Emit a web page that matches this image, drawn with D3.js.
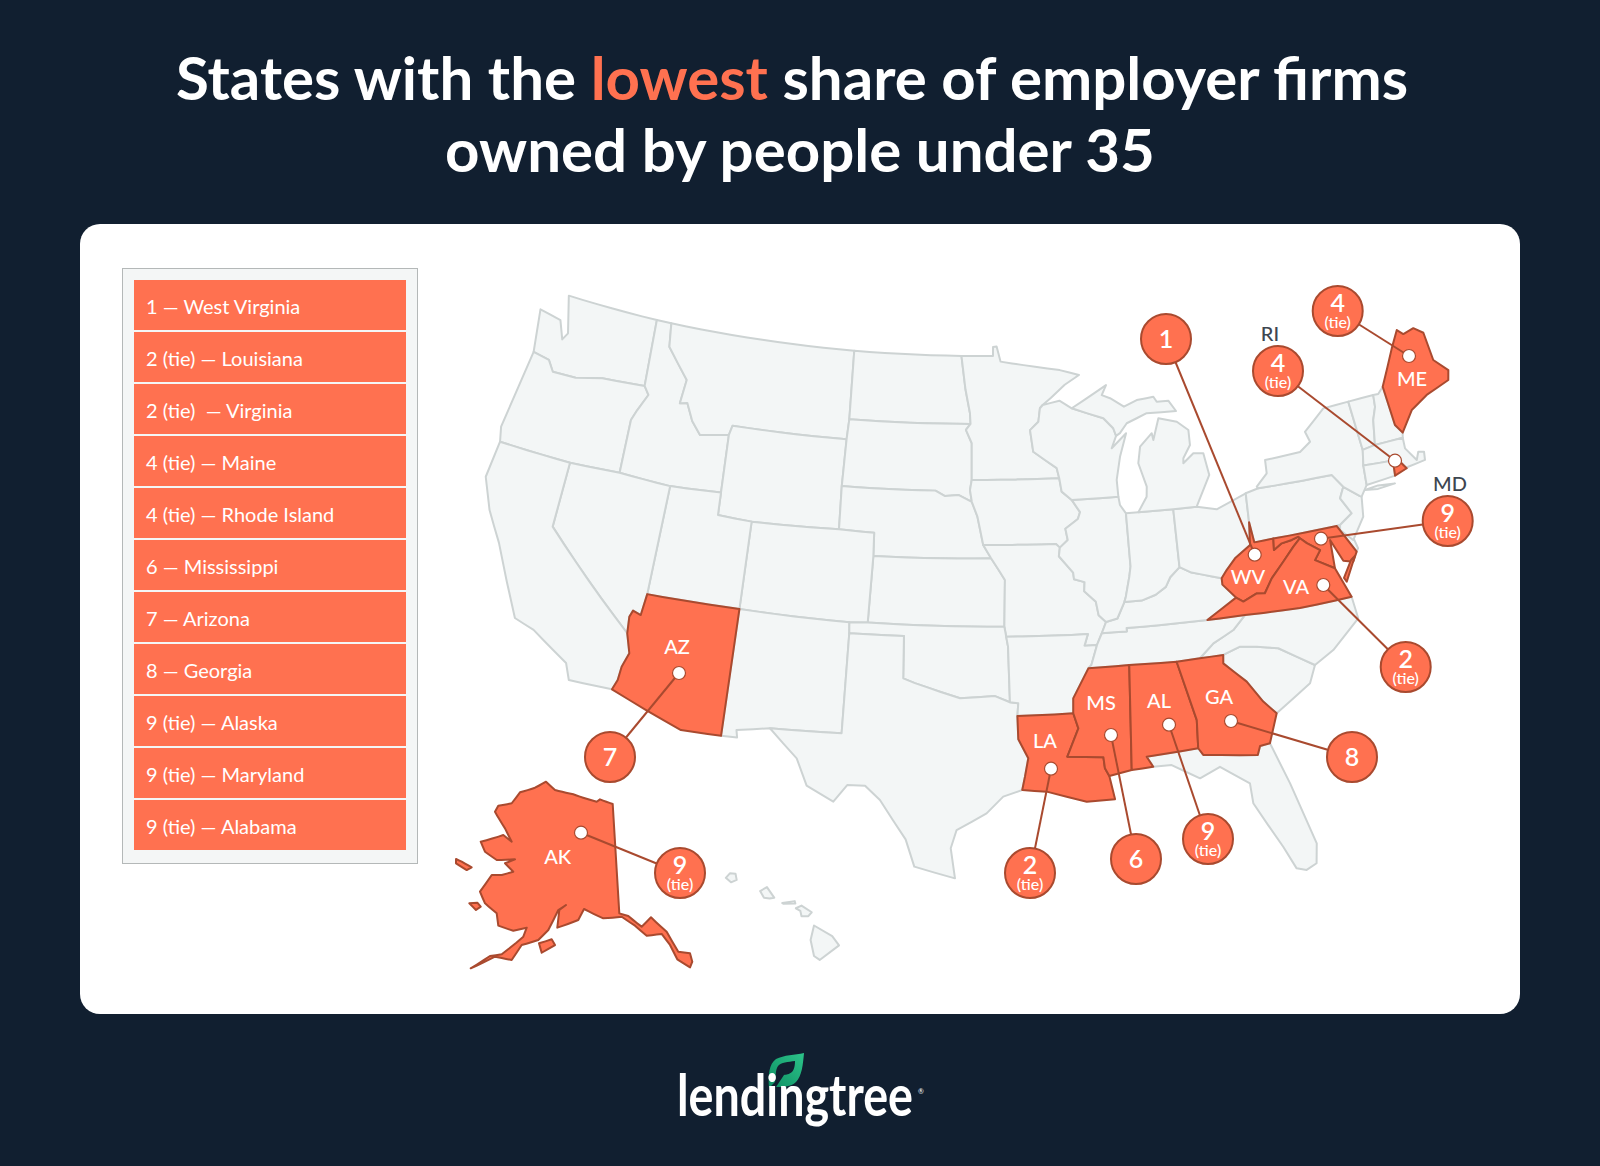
<!DOCTYPE html>
<html><head><meta charset="utf-8">
<script src="https://cdn.jsdelivr.net/npm/d3@7"></script>
<style>html,body{margin:0;padding:0;background:#111f30}svg{display:block}text{font-family:Lato,sans-serif;white-space:pre}</style>
</head><body><svg id="c" width="1600" height="1166" viewBox="0 0 1600 1166"></svg>
<script>
// ---------- chart content ----------
const titleLine1 = ["States with the ", "lowest", " share of employer firms"];
const titleLine2 = "owned by people under 35";
const legendLabels = ["1 — West Virginia","2 (tie) — Louisiana","2 (tie)  — Virginia","4 (tie) — Maine","4 (tie) — Rhode Island","6 — Mississippi","7 — Arizona","8 — Georgia","9 (tie) — Alaska","9 (tie) — Maryland","9 (tie) — Alabama"];
const highlighted = ["WV","LA","VA","ME","RI","MS","AZ","GA","AK","MD","AL"];
const ranks = {WV:"1",LA:"2",VA:"2",ME:"4",RI:"4",MS:"6",AZ:"7",GA:"8",AK:"9",MD:"9",AL:"9"};
const ties = ["LA","VA","ME","RI","AK","MD","AL"];
const outsideNames = ["RI","MD"];

// ---------- shared state borders, lon/lat ----------
const waCoast=[[-123.92,46.35],[-124.32,48.26],[-122.90,48.04],[-122.44,47.23],[-122.20,47.56],[-122.84,49.20]];
const b49wa=[[-122.84,49.20],[-116.93,49.08]], b49id=[[-116.93,49.08],[-115.97,49.07]], b49mt=[[-115.97,49.07],[-104.04,49.01]], b49nd=[[-104.04,49.01],[-97.13,49]];
const mnNorth=[[-97.13,49],[-95.10,49],[-95.09,49.40],[-94.86,49.42],[-94.62,48.74],[-92.42,48.47],[-90.86,48.27],[-89.66,48],[-90.6,47.6],[-91.5,47.05],[-92.04,46.74]];
const waOr=[[-123.92,46.35],[-122.87,46.19],[-122.43,45.73],[-120.98,45.73],[-119.38,46],[-116.74,46.08]];
const waId=[[-116.93,49.08],[-116.74,46.08]];
const orCoast=[[-123.92,46.35],[-124.42,42.76],[-124.21,42.11]];
const orCa=[[-124.21,42.11],[-119.96,42.02]], orNv=[[-119.96,42.02],[-117.02,42.08]];
const orId=[[-116.74,46.08],[-116.39,45.72],[-116.85,44.95],[-117.08,44.47],[-117.02,42.08]];
const idMt=[[-115.97,49.07],[-115.77,48.02],[-114.27,46.71],[-114.40,45.63],[-113.95,45.7],[-113.45,44.95],[-112.83,44.40],[-111.12,44.61]];
const mtWy=[[-111.12,44.61],[-110.99,45.04],[-104.03,45.03]], idWy=[[-111.12,44.61],[-111.02,42.03]];
const idNv=[[-117.02,42.08],[-113.99,41.94]], idUt=[[-113.99,41.94],[-111.02,42.03]];
const mtNd=[[-104.04,49.01],[-103.97,45.93]], mtSd=[[-103.97,45.93],[-104.03,45.03]];
const ndSd=[[-103.97,45.93],[-96.52,45.95]], ndMn=[[-97.13,49],[-96.85,47.5],[-96.56,46.44],[-96.52,45.95]];
const sdMn=[[-96.52,45.95],[-96.80,45.68],[-96.44,45.09],[-96.43,43.46]], sdIa=[[-96.43,43.46],[-96.53,43.01],[-96.42,42.49]];
const wySd=[[-104.03,45.03],[-104.07,42.94]], wyNe=[[-104.07,42.94],[-104.01,41.02]];
const sdNe=[[-104.07,42.94],[-98.56,42.96],[-97.99,42.73],[-97.21,42.79],[-96.42,42.49]];
const neCo=[[-104.01,41.02],[-101.99,40.98],[-101.95,39.95]], neKs=[[-101.95,39.95],[-95.32,39.99]];
const neIa=[[-96.42,42.49],[-96.09,41.83],[-95.76,40.58]], neMo=[[-95.76,40.58],[-95.32,39.99]];
const mnIa=[[-96.43,43.46],[-91.25,43.45]];
const mnWi=[[-92.04,46.74],[-92.22,46.60],[-92.35,46],[-92.88,45.64],[-92.73,44.67],[-91.37,43.90],[-91.25,43.45]];
const iaWi=[[-91.25,43.45],[-91.15,42.85],[-90.59,42.46]];
const iaIl=[[-90.59,42.46],[-90.15,41.9],[-90.3,41.6],[-91.05,41.2],[-90.95,40.7],[-91.42,40.38]];
const iaMo=[[-95.76,40.58],[-91.63,40.55],[-91.42,40.38]];
const moIl=[[-91.42,40.38],[-91.5,40],[-90.75,39.25],[-90.72,38.95],[-90.15,38.8],[-90.2,38.4],[-89.6,37.9],[-89.5,37.3],[-89.13,36.98]];
const moKy=[[-89.13,36.98],[-89.4,36.5]], moTn=[[-89.4,36.5],[-89.7,36]];
const moAr=[[-89.7,36],[-90.37,36],[-90.15,36.5],[-94.54,36.52]];
const ksMo=[[-95.32,39.99],[-94.90,39.47],[-94.56,39.02],[-94.63,36.96]], moOk=[[-94.63,36.96],[-94.54,36.52]];
const ksOk=[[-102.02,37.01],[-94.63,36.96]], ksCo=[[-101.95,39.95],[-102.02,37.01]];
const coWy=[[-109.02,40.95],[-104.01,41.02]], coUt=[[-109.02,40.95],[-109,37.06]], coNm=[[-109,37.06],[-103.01,36.96]], coOk=[[-103.01,36.96],[-102.02,37.01]];
const utWy=[[-111.02,42.03],[-110.98,41.03],[-109.02,40.95]], utNv=[[-113.99,41.94],[-114.06,37.07]], utAz=[[-114.06,37.07],[-109,37.06]];
const nvCa=[[-119.96,42.02],[-119.97,39.10],[-114.69,35.21]], nvAz=[[-114.06,37.07],[-114.18,36.11],[-114.63,36.24],[-114.76,35.94],[-114.69,35.21]];
const caAz=[[-114.69,35.21],[-114.37,34.36],[-114.62,33.71],[-114.68,33.10],[-114.87,32.65]];
const azSouth=[[-114.87,32.65],[-111.05,31.39],[-109.01,31.39]], azNm=[[-109,37.06],[-109.01,31.39]];
const caCoast=[[-124.21,42.11],[-124.38,40.45],[-123.61,39.09],[-122.58,37.81],[-120.64,34.79],[-119.53,34.48],[-117.47,33.38],[-117.13,32.67]];
const caSouth=[[-117.13,32.67],[-114.87,32.65]];
const nmOk=[[-103.01,36.96],[-102.97,36.48]], nmTx=[[-102.97,36.48],[-102.97,32.04],[-106.61,31.98]], nmMex=[[-109.01,31.39],[-108.20,31.41],[-108.28,31.73],[-106.61,31.98]];
const txOk=[[-102.97,36.48],[-100.03,36.49],[-99.97,34.62],[-99.35,34.43],[-98.03,34.08],[-96.98,33.80],[-95.17,33.90],[-94.40,33.62]];
const okAr=[[-94.54,36.52],[-94.45,36.08],[-94.40,33.62]];
const arTx=[[-94.40,33.62],[-93.97,33.57],[-94.03,33]], arLa=[[-94.03,33],[-91.16,33.04]];
const arTn=[[-89.7,36],[-90.07,35.13],[-90.24,34.99]], arMs=[[-90.24,34.99],[-91.12,33.70],[-91.16,33.04]];
const txLa=[[-94.03,33],[-94.01,31.97],[-93.53,31.12],[-93.72,30.30],[-93.87,29.71]];
const txCoast=[[-93.87,29.71],[-94.81,29.43],[-95.63,28.69],[-97.08,27.94],[-97.35,27.12],[-97.13,25.77]];
const rio=[[-97.13,25.77],[-99.06,26.26],[-99.52,27.47],[-100.85,29.18],[-101.62,29.78],[-102.5,29.76],[-103.12,28.98],[-104.49,29.6],[-105.11,30.77],[-106.61,31.98]];
const laRiver=[[-91.16,33.04],[-90.94,32.36],[-91.57,31.13]];
const laMs=[[-91.57,31.13],[-89.77,31.02],[-89.73,30.52],[-89.54,30.17]];
const laCoast=[[-89.54,30.17],[-89.34,29.12],[-90.73,29.08],[-92.67,29.61],[-93.87,29.71]];
const msTn=[[-90.24,34.99],[-88.08,35.01]], msAl=[[-88.08,35.01],[-88.41,30.36]], msCoast=[[-88.41,30.36],[-89.54,30.17]];
const alTn=[[-88.08,35.01],[-85.58,34.96]], alGa=[[-85.58,34.96],[-84.90,32.30],[-85,31.05]];
const alFl=[[-85,31.05],[-87.61,30.90],[-87.33,30.43]], alCoast=[[-87.33,30.43],[-88.41,30.36]];
const gaTn=[[-85.58,34.96],[-84.34,35]], gaNc=[[-84.34,35],[-83.10,35.02]];
const gaSc=[[-83.10,35.02],[-83.16,34.65],[-82.09,33.71],[-81.41,32.73],[-80.83,32.13]];
const gaCoast=[[-80.83,32.13],[-81.41,30.86]], gaFl=[[-81.41,30.86],[-81.92,30.80],[-82.10,30.42],[-84.79,30.73],[-85,31.05]];
const flCoast=[[-87.33,30.43],[-86.41,30.43],[-85.09,29.71],[-84.04,30.12],[-82.69,29.22],[-82.67,28.32],[-81.57,26.20],[-81.11,25.15],[-80.66,25.01],[-80.15,25.24],[-79.98,26.12],[-80.75,28.96],[-81.41,30.86]];
const scNc=[[-78.45,33.96],[-80.18,34.96],[-81.29,35.17],[-82.16,35.28],[-83.10,35.02]];
const scCoast=[[-78.45,33.96],[-78.88,33.20],[-80.83,32.13]];
const ncNorth=[[-81.64,36.63],[-78.66,36.55],[-75.81,36.61]], ncCoast=[[-75.81,36.61],[-75.72,35.62],[-77.36,34.46],[-78.45,33.96]];
const tnNc=[[-81.64,36.63],[-82.38,36.05],[-83.53,35.58],[-84.34,35]];
const kyTn=[[-89.4,36.5],[-88.05,36.5],[-88.05,36.65],[-83.68,36.64]], tnVa=[[-83.68,36.64],[-81.64,36.63]];
const ilKy=[[-89.13,36.98],[-88.5,37.1],[-88.05,37.8]];
const inKy=[[-88.05,37.8],[-87.1,37.8],[-86.3,38],[-85.7,38.3],[-85.4,38.7],[-84.82,39.1]];
const ohKy=[[-84.82,39.1],[-84.2,38.8],[-83.6,38.65],[-82.59,38.38]];
const kyWv=[[-82.59,38.38],[-82.6,38.1],[-81.97,37.45]], kyVa=[[-81.97,37.45],[-83.68,36.64]];
const ilWi=[[-90.59,42.46],[-87.86,42.46]], ilLake=[[-87.86,42.46],[-87.81,42.09],[-87.51,41.7]];
const ilIn=[[-87.51,41.7],[-87.53,39.35],[-87.65,38.9],[-87.95,38],[-88.05,37.8]];
const inLake=[[-87.51,41.7],[-86.79,41.7]], inMi=[[-86.79,41.7],[-84.77,41.67]], inOh=[[-84.77,41.67],[-84.82,39.1]];
const ohMi=[[-84.77,41.67],[-83.41,41.66]], ohErie=[[-83.41,41.66],[-82.29,41.43],[-80.49,41.94]];
const ohPa=[[-80.49,41.94],[-80.58,40.65]], ohWv=[[-80.58,40.65],[-80.74,39.65],[-81.69,39.17],[-82.25,38.71],[-82.59,38.38]];
const wiSup=[[-92.04,46.74],[-90.99,46.90],[-90.25,46.53]], wiUp=[[-90.25,46.53],[-88.35,45.99],[-87.80,45.51],[-87.67,45.16]];
const wiLake=[[-87.67,45.16],[-88,44.63],[-87.05,45.24],[-87.55,44.22],[-87.87,43.21],[-87.86,42.46]];
const upShore=[[-90.25,46.53],[-88.01,47.46],[-88.33,47.03],[-87.83,46.86],[-87.02,46.43],[-86.19,46.67],[-85.14,46.74],[-84.97,46.50],[-84.25,46.49],[-83.86,45.99],[-85.67,46.04],[-86.95,45.68],[-87.42,45.27],[-87.67,45.16]];
const lpShore=[[-86.79,41.7],[-86.22,42.35],[-86.15,42.79],[-86.50,43.86],[-86.29,44.59],[-85.50,45.13],[-85.45,44.82],[-84.99,45.76],[-83.90,45.51],[-83.27,45.08],[-83.30,44.41],[-83.80,43.86],[-83.84,43.64],[-83.17,44.03],[-82.58,43.97],[-82.42,42.98],[-83.41,41.66]];
const wvPa=[[-80.58,40.65],[-80.48,39.74]], wvPa2=[[-80.48,39.74],[-79.39,39.77]];
const wvMd=[[-79.39,39.77],[-79.47,39.27],[-78.98,39.50],[-78.39,39.57],[-77.99,39.66],[-77.92,39.58]];
const wvVa=[[-77.92,39.58],[-78.38,39.26],[-79.08,38.69],[-79.87,38.05],[-80.38,37.45],[-80.82,37.50],[-81.61,37.23],[-81.97,37.45]];
const paErie=[[-80.49,41.94],[-79.72,42.07]], nyPa=[[-79.72,42.07],[-75.39,42.05],[-74.89,41.43]];
const paNj=[[-74.89,41.43],[-75.22,40.96],[-74.77,40.21],[-75.56,39.81]], paDe=[[-75.56,39.81],[-75.76,39.80]], paMd=[[-75.76,39.80],[-79.39,39.77]];
const mdDe=[[-75.76,39.80],[-74.99,38.51]];
const mdBay=[[-74.99,38.51],[-75.30,38.11],[-75.82,38.24],[-76.29,39.25],[-76.36,37.99]];
const mdVa=[[-76.36,37.99],[-77.34,38.51],[-76.95,38.90],[-77.60,39.31],[-77.92,39.58]];
const deBay=[[-75.56,39.81],[-75.03,39.27],[-74.87,38.65],[-74.99,38.51]];
const vaCoast=[[-76.36,37.99],[-75.81,36.61]];
const njNy=[[-74.89,41.43],[-74.08,40.87],[-74,40.83]], njCoast=[[-74,40.83],[-74.18,39.95],[-75.03,39.04],[-75.62,39.59],[-75.56,39.81]];
const nyErie=[[-79.72,42.07],[-79.79,42.15],[-79.08,42.66],[-79.03,43.25],[-76.91,43.32],[-76.20,43.68],[-76.37,44.16],[-74.98,45.01],[-73.41,45.06]];
const nyVt=[[-73.41,45.06],[-73.28,42.83]], nyMa=[[-73.28,42.83],[-73.47,42.15]], nyCt=[[-73.47,42.15],[-73.56,41.28]], nyHudson=[[-73.56,41.28],[-74,40.83]];
const vtNorth=[[-73.41,45.06],[-71.84,45.09]], vtNh=[[-71.84,45.09],[-71.92,44.56],[-72.23,44.01],[-72.51,42.92]], maVt=[[-73.28,42.83],[-72.51,42.92]];
const nhNorth=[[-71.84,45.09],[-71.53,45.08],[-71.15,45.34]], nhMe=[[-71.15,45.34],[-71.06,43.56],[-70.74,43.15]], nhCoast=[[-70.74,43.15],[-70.82,42.93]], nhMa=[[-70.82,42.93],[-72.51,42.92]];
const meOuter=[[-71.15,45.34],[-69.96,46.89],[-69.33,47.62],[-69.01,47.37],[-68.30,47.50],[-67.78,47.18],[-67.71,45.89],[-67.02,45.27],[-67.21,44.85],[-68.73,44.48],[-69.85,44.01],[-70.74,43.15]];
const maCoast=[[-70.82,42.93],[-70.86,42.45],[-70.39,41.82],[-70.17,42.16],[-69.85,42.09],[-69.93,41.73],[-70.97,41.63],[-71.08,41.58]];
const maRi=[[-71.08,41.58],[-71.35,41.93],[-71.73,42.06]], maCt=[[-71.73,42.06],[-73.47,42.15]];
const riCoast=[[-71.08,41.58],[-71.84,41.39]], riCt=[[-71.84,41.39],[-71.73,42.06]], ctCoast=[[-73.56,41.28],[-71.84,41.39]];
const longIsland=[[-73.72,41.08],[-72.98,41],[-71.96,41.06],[-72.93,41.15]];
const vaShore=[[-75.14,38.34],[-75.40,38.20],[-75.99,37.49],[-75.89,37.30]];

const r=a=>a.slice().reverse();
const states=[
 ["WA",[waCoast,b49wa,waId,r(waOr)]],["OR",[waOr,orId,r(orNv),r(orCa),r(orCoast)]],
 ["ID",[b49id,idMt,idWy,r(idUt),r(idNv),r(orId),r(waId)]],["MT",[b49mt,mtNd,mtSd,r(mtWy),r(idMt)]],
 ["WY",[mtWy,wySd,wyNe,r(coWy),r(utWy),r(idWy)]],["ND",[b49nd,ndMn,r(ndSd),r(mtNd)]],
 ["SD",[ndSd,sdMn,sdIa,r(sdNe),r(wySd),r(mtSd)]],["MN",[mnNorth,mnWi,r(mnIa),r(sdMn),r(ndMn)]],
 ["NE",[sdNe,neIa,neMo,r(neKs),r(neCo),r(wyNe)]],["IA",[mnIa,iaWi,iaIl,r(iaMo),r(neIa),r(sdIa)]],
 ["KS",[neKs,ksMo,r(ksOk),r(ksCo)]],["MO",[iaMo,moIl,moKy,moTn,moAr,r(moOk),r(ksMo),r(neMo)]],
 ["CO",[coWy,neCo,ksCo,r(coOk),r(coNm),r(coUt)]],["UT",[idUt,utWy,coUt,r(utAz),r(utNv)]],
 ["NV",[orNv,idNv,utNv,nvAz,r(nvCa)]],["CA",[orCa,nvCa,caAz,r(caSouth),r(caCoast)]],
 ["AZ",[utAz,azNm,r(azSouth),r(caAz),r(nvAz)]],["NM",[coNm,nmOk,nmTx,r(nmMex),r(azNm)]],
 ["OK",[coOk,ksOk,moOk,okAr,r(txOk),r(nmOk)]],["TX",[txOk,arTx,txLa,txCoast,rio,r(nmTx)]],
 ["AR",[r(moAr),arTn,arMs,r(arLa),r(arTx),r(okAr)]],["LA",[arLa,laRiver,laMs,laCoast,r(txLa)]],
 ["MS",[msTn,msAl,msCoast,r(laMs),r(laRiver),r(arMs)]],["AL",[alTn,alGa,alFl,alCoast,r(msAl)]],
 ["GA",[gaTn,gaNc,gaSc,gaCoast,gaFl,r(alGa)]],["FL",[r(alFl),r(gaFl),r(flCoast)]],
 ["SC",[scNc,gaSc.slice().reverse().reverse(),r(scCoast)]],["NC",[ncNorth,ncCoast,scNc,r(gaNc),r(tnNc)]],
 ["TN",[kyTn,tnVa,tnNc,r(gaTn),r(alTn),r(msTn),r(arTn),r(moTn)]],
 ["KY",[ilKy,inKy,ohKy,kyWv,kyVa,r(kyTn),r(moKy)]],["IL",[ilWi,ilLake,ilIn,r(ilKy),r(moIl),r(iaIl)]],
 ["IN",[inLake,inMi,inOh,r(inKy),r(ilIn)]],["OH",[ohMi,ohErie,ohPa,ohWv,r(ohKy),r(inOh)]],
 ["WI",[wiSup,wiUp,wiLake,r(ilWi),r(iaWi),r(mnWi)]],["MI",[upShore,r(wiUp)]],["MI",[lpShore,r(ohMi),r(inMi)]],
 ["WV",[wvPa,wvPa2,wvMd,wvVa,r(kyWv),r(ohWv)]],["PA",[paErie,nyPa,paNj,paDe,paMd,r(wvPa2),r(wvPa),r(ohPa)]],
 ["MD",[r(paMd),mdDe,mdBay,mdVa,r(wvMd)]],["DE",[r(paDe),deBay,r(mdDe)]],
 ["VA",[r(wvVa),r(mdVa),vaCoast,r(ncNorth),r(tnVa),r(kyVa)]],["VA",[vaShore]],
 ["NJ",[r(paNj),njNy,njCoast]],["NY",[nyErie,nyVt,nyMa,nyCt,nyHudson,r(njNy),r(nyPa)]],["NY",[longIsland]],
 ["VT",[vtNorth,vtNh,r(maVt),r(nyVt)]],["NH",[nhNorth,nhMe,nhCoast,nhMa,r(vtNh)]],["ME",[meOuter,r(nhMe)]],
 ["MA",[maVt,r(nhMa),maCoast,maRi,maCt,r(nyMa)]],["RI",[r(maRi),riCoast,riCt]],["CT",[maCt,nyCt,ctCoast,riCt]]
];
const alaska=[[-158.39,71.12],[-155.67,70.53],[-150.85,70.35],[-144.82,69.77],[-143.99,69.98],[-140.85,69.52],[-140.89,59.85],[-139.35,59.56],[-137.25,58.51],[-135.46,59.22],[-133.23,57.75],[-131.99,55.83],[-130.25,55.48],[-130.19,54.71],[-130.71,54.27],[-132.37,55.19],[-133.08,56.55],[-134.11,57.63],[-136.60,57.67],[-138.36,58.66],[-140.51,59.54],[-143.73,59.47],[-147.14,60.28],[-148.07,59.29],[-151.56,58.49],[-151.51,60.05],[-150.40,60.54],[-151.69,60.04],[-153.02,58.20],[-154.45,57.21],[-156.97,56.54],[-158.07,55.08],[-160.69,55.05],[-163.78,53.51],[-161.46,55],[-159.76,55.39],[-156.95,57.29],[-156.66,58.12],[-158.75,57.63],[-161.36,57.77],[-162.14,58.79],[-164.54,59.35],[-166,60.19],[-164.88,61.90],[-163.07,62.15],[-161.09,62.69],[-163.07,63.22],[-161.36,63.78],[-164.81,63.29],[-167.53,63.66],[-169.03,64.36],[-165.03,65.56],[-162.93,65.21],[-165.11,66.17],[-168.41,67.28],[-168.17,67.88],[-165.37,68.47],[-164.22,69.62],[-160.86,70.37]];
const kodiak=[[-154.26,56.93],[-152.29,57.42],[-151.65,56.95],[-153.63,56.14]];
const stLawrence=[[-172.24,62.13],[-171.05,62.11],[-168.91,61.97],[-169.60,61.59],[-171.92,61.78]];
const nunivak=[[-167.12,58.93],[-165.85,59.20],[-165.08,58.96],[-165.68,58.55]];
const hawaii=[
 [[-159.78,22.05],[-159.6,22.22],[-159.35,22.2],[-159.3,21.97],[-159.55,21.88]],
 [[-158.27,21.55],[-157.97,21.7],[-157.65,21.3],[-157.85,21.27],[-158.1,21.3]],
 [[-157.3,21.1],[-156.75,21.17],[-156.72,21.08],[-157.25,21.07]],
 [[-156.7,20.9],[-156.45,21],[-156,20.75],[-156.15,20.6],[-156.45,20.6],[-156.5,20.8]],
 [[-155.9,20.25],[-155.1,19.85],[-154.8,19.5],[-155.65,18.95],[-155.9,19.1],[-156.05,19.7]]
];

// ---------- layout ----------
const COL={bg:"#111f30",orange:"#ff7150",dark:"#a94a2f",land:"#f3f6f6",edge:"#cdd3d3",ink:"#3d4650"};
const calloutLayout={
 WV:{dot:[1254.7,554.7],c:[1166,339],lab:[1248,576.7]},
 ME:{dot:[1409,356],c:[1337.7,311],lab:[1412,379]},
 RI:{dot:[1395,460.7],c:[1278,371],lab:[1270,341]},
 MD:{dot:[1321,538.7],c:[1447.7,521],lab:[1450,491]},
 VA:{dot:[1323.3,585],c:[1405.7,667],lab:[1296,587]},
 LA:{dot:[1051,768.7],c:[1030,873],lab:[1045,741]},
 MS:{dot:[1111,735],c:[1136,859],lab:[1101,702.7]},
 AL:{dot:[1169,724.7],c:[1208,839],lab:[1159,701]},
 GA:{dot:[1231,721],c:[1352,757],lab:[1219,696.7]},
 AZ:{dot:[679,673],c:[610,757],lab:[677,647]},
 AK:{dot:[581,832.7],c:[680,873],lab:[557.7,857]}
};

const svg=d3.select("#c");
svg.append("rect").attr("width",1600).attr("height",1166).attr("fill",COL.bg);

// title
const t1=svg.append("text").attr("x",792).attr("y",99.5).attr("text-anchor","middle").attr("font-size",60).attr("font-weight",700).attr("fill","#fff");
titleLine1.forEach((s,i)=>t1.append("tspan").text(s).attr("fill",i===1?COL.orange:"#fff"));
svg.append("text").attr("x",800).attr("y",172).attr("text-anchor","middle").attr("font-size",60).attr("font-weight",700).attr("fill","#fff").text(titleLine2);

// card
svg.append("rect").attr("x",80).attr("y",224).attr("width",1440).attr("height",790).attr("rx",20).attr("fill","#fff");

// legend
svg.append("rect").attr("x",122.5).attr("y",268.5).attr("width",295).attr("height",595).attr("fill","#f4f6f6").attr("stroke","#b4b8b8").attr("stroke-width",1);
const yBand=d3.scaleBand().domain(d3.range(legendLabels.length)).range([280,850]).paddingInner(2/52);
const leg=svg.append("g").selectAll("g").data(legendLabels).join("g").attr("transform",(d,i)=>`translate(134,${yBand(i)})`);
leg.append("rect").attr("width",272).attr("height",yBand.bandwidth()).attr("fill",COL.orange);
leg.append("text").attr("x",12).attr("y",34).attr("font-size",20).attr("fill","#fff").text(d=>d);

// map
const albers=d3.geoConicEqualArea().parallels([29.5,45.5]).rotate([96,0]).center([0,0]).scale(1340).translate([979,0]);
const usP=p=>{const q=albers(p);return [q[0],q[1]*(1285/1340)+1417.8];};
const akP=d3.geoConicEqualArea().parallels([55,65]).rotate([145,0]).center([0,0]).scale(650).translate([596,1531.6]);
const hiBase=d3.geoEquirectangular().scale(1303).rotate([157,0]).translate([789,0]);
const hiP=p=>{const q=hiBase(p);return [q[0],q[1]*1.165+1462];};
const dense=(ring)=>{const out=[];ring.forEach((p,i)=>{const q=ring[(i+1)%ring.length];const n=Math.max(1,Math.ceil(Math.abs(q[0]-p[0])));for(let k=0;k<n;k++)out.push([p[0]+(q[0]-p[0])*k/n,p[1]+(q[1]-p[1])*k/n]);});return out;};
const toPath=(ring,P)=>d3.line().curve(d3.curveLinearClosed)(dense(ring).map(P));
const shapes=[];
states.forEach(([id,arcs])=>shapes.push({id,d:toPath(arcs.flat(),usP)}));
[alaska,kodiak,stLawrence,nunivak].forEach(a=>shapes.push({id:"AK",d:toPath(a,akP)}));
hawaii.forEach(a=>shapes.push({id:"HI",d:toPath(a,hiP)}));
const isHi=d=>highlighted.includes(d.id);
const gMap=svg.append("g").attr("stroke-linejoin","round");
gMap.selectAll("path.l").data(shapes.filter(d=>!isHi(d))).join("path").attr("class","l").attr("d",d=>d.d).attr("fill",COL.land).attr("stroke",COL.edge).attr("stroke-width",2);
gMap.selectAll("path.h").data(shapes.filter(isHi)).join("path").attr("class","h").attr("d",d=>d.d).attr("fill",COL.orange).attr("stroke",COL.dark).attr("stroke-width",2);

// callouts
const items=highlighted.map(id=>({id,...calloutLayout[id],rank:ranks[id],tie:ties.includes(id),outside:outsideNames.includes(id)}));
const gc=svg.append("g");
gc.selectAll("line").data(items).join("line").attr("x1",d=>d.dot[0]).attr("y1",d=>d.dot[1]).attr("x2",d=>d.c[0]).attr("y2",d=>d.c[1]).attr("stroke",COL.dark).attr("stroke-width",2);
gc.selectAll("circle.dot").data(items).join("circle").attr("class","dot").attr("cx",d=>d.dot[0]).attr("cy",d=>d.dot[1]).attr("r",6.5).attr("fill","#fff").attr("stroke",COL.dark).attr("stroke-width",1.2);
gc.selectAll("circle.bub").data(items).join("circle").attr("class","bub").attr("cx",d=>d.c[0]).attr("cy",d=>d.c[1]).attr("r",25).attr("fill",COL.orange).attr("stroke",COL.dark).attr("stroke-width",2);
gc.selectAll("text.rank").data(items).join("text").attr("class","rank").attr("x",d=>d.c[0]).attr("y",d=>d.c[1]+(d.tie?1:8.5)).attr("text-anchor","middle").attr("font-size",25).attr("font-weight",600).attr("fill","#fff").text(d=>d.rank);
gc.selectAll("text.tie").data(items.filter(d=>d.tie)).join("text").attr("class","tie").attr("x",d=>d.c[0]).attr("y",d=>d.c[1]+16.5).attr("text-anchor","middle").attr("font-size",16).attr("font-weight",500).attr("fill","#fff").text("(tie)");
gc.selectAll("text.name").data(items).join("text").attr("class","name").attr("x",d=>d.lab[0]).attr("y",d=>d.lab[1]+(d.outside?0:7)).attr("text-anchor","middle").attr("font-size",20).attr("font-weight",500).attr("fill",d=>d.outside?COL.ink:"#fff").text(d=>d.id);

// logo
const defs=svg.append("defs");
const grad=defs.append("linearGradient").attr("id","leaf").attr("x1",0).attr("y1",1).attr("x2",1).attr("y2",0);
grad.append("stop").attr("offset",0).attr("stop-color","#0d8f63");grad.append("stop").attr("offset",1).attr("stop-color","#2dc48a");
svg.append("path").attr("d","M769,1088 C768,1075 769,1064 776,1059 C784,1055 795,1055 804,1053 C803,1064 802,1076 796,1082 C791,1087 782,1087 776,1087 L784,1075 C789,1074 795,1074 795,1061 C788,1062 781,1062 778,1066 C775,1070 776,1078 775,1082 Z").attr("fill","url(#leaf)");
svg.append("text").attr("x",677).attr("y",1116).attr("font-size",57).attr("font-weight",700).attr("fill","#fff").attr("textLength",236).attr("lengthAdjust","spacingAndGlyphs").text("lendingtree");
svg.append("text").attr("x",921).attr("y",1094).attr("font-size",7).attr("fill","#fff").attr("text-anchor","middle").text("®");
</script></body></html>
